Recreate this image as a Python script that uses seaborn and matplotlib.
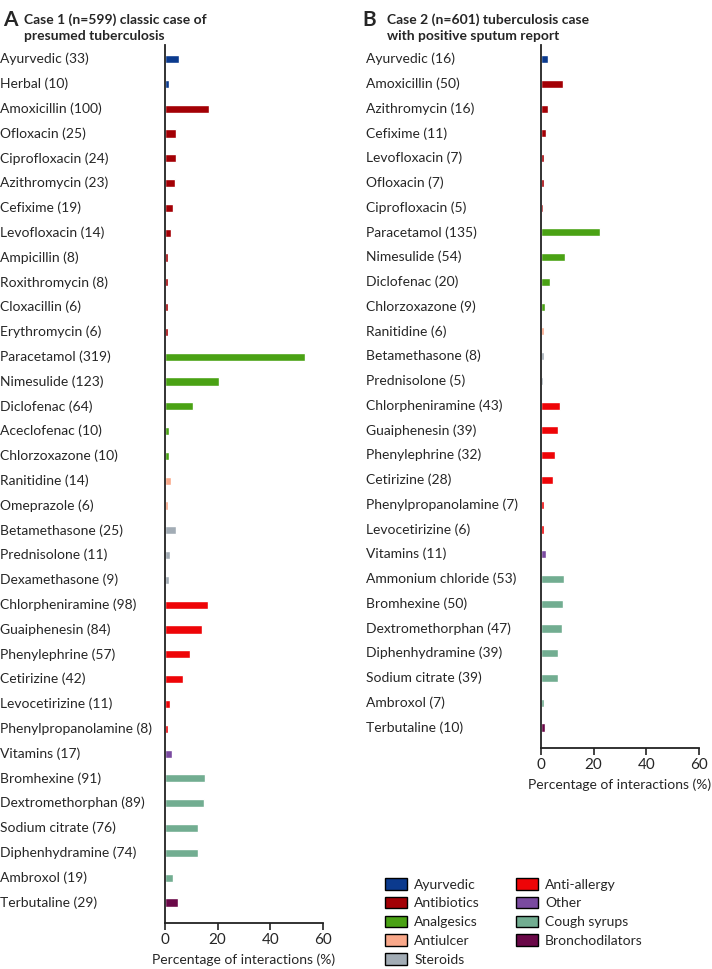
import matplotlib
matplotlib.use("Agg")
import pandas as pd
import seaborn as sns
import matplotlib.pyplot as plt
import matplotlib.transforms as mtransforms
from matplotlib.patches import Patch

sns.set_style("white")
plt.rcParams["font.family"] = ["Lato", "DejaVu Sans"]

colors = {"Ayurvedic": "#0b3a8e", "Antibiotics": "#a30005", "Analgesics": "#4aa214",
          "Antiulcer": "#f9a88a", "Steroids": "#a2acb5", "Anti-allergy": "#ee0407",
          "Other": "#7a4aa0", "Cough syrups": "#72ad91", "Bronchodilators": "#6a0848"}

# Case 1 (n=599)
labels_1 = ["Ayurvedic (33)", "Herbal (10)", "Amoxicillin (100)", "Ofloxacin (25)", "Ciprofloxacin (24)",
            "Azithromycin (23)", "Cefixime (19)", "Levofloxacin (14)", "Ampicillin (8)", "Roxithromycin (8)",
            "Cloxacillin (6)", "Erythromycin (6)", "Paracetamol (319)", "Nimesulide (123)", "Diclofenac (64)",
            "Aceclofenac (10)", "Chlorzoxazone (10)", "Ranitidine (14)", "Omeprazole (6)", "Betamethasone (25)",
            "Prednisolone (11)", "Dexamethasone (9)", "Chlorpheniramine (98)", "Guaiphenesin (84)",
            "Phenylephrine (57)", "Cetirizine (42)", "Levocetirizine (11)", "Phenylpropanolamine (8)",
            "Vitamins (17)", "Bromhexine (91)", "Dextromethorphan (89)", "Sodium citrate (76)",
            "Diphenhydramine (74)", "Ambroxol (19)", "Terbutaline (29)"]
pct_1 = [5.5, 1.7, 16.7, 4.2, 4.0, 3.8, 3.2, 2.3, 1.3, 1.3, 1.0, 1.0, 53.3, 20.5, 10.7,
         1.7, 1.7, 2.3, 1.0, 4.2, 1.8, 1.5, 16.4, 14.0, 9.5, 7.0, 1.8, 1.3, 2.8,
         15.2, 14.9, 12.7, 12.4, 3.2, 4.8]
group_1 = ["Ayurvedic"] * 2 + ["Antibiotics"] * 10 + ["Analgesics"] * 5 + ["Antiulcer"] * 2 + \
          ["Steroids"] * 3 + ["Anti-allergy"] * 6 + ["Other"] + ["Cough syrups"] * 5 + ["Bronchodilators"]

# Case 2 (n=601)
labels_2 = ["Ayurvedic (16)", "Amoxicillin (50)", "Azithromycin (16)", "Cefixime (11)", "Levofloxacin (7)",
            "Ofloxacin (7)", "Ciprofloxacin (5)", "Paracetamol (135)", "Nimesulide (54)", "Diclofenac (20)",
            "Chlorzoxazone (9)", "Ranitidine (6)", "Betamethasone (8)", "Prednisolone (5)",
            "Chlorpheniramine (43)", "Guaiphenesin (39)", "Phenylephrine (32)", "Cetirizine (28)",
            "Phenylpropanolamine (7)", "Levocetirizine (6)", "Vitamins (11)", "Ammonium chloride (53)",
            "Bromhexine (50)", "Dextromethorphan (47)", "Diphenhydramine (39)", "Sodium citrate (39)",
            "Ambroxol (7)", "Terbutaline (10)"]
pct_2 = [2.7, 8.3, 2.7, 1.8, 1.2, 1.2, 0.8, 22.5, 9.0, 3.3, 1.5, 1.0, 1.3, 0.8,
         7.2, 6.5, 5.3, 4.7, 1.2, 1.0, 1.8, 8.8, 8.3, 7.8, 6.5, 6.5, 1.2, 1.7]
group_2 = ["Ayurvedic"] + ["Antibiotics"] * 6 + ["Analgesics"] * 4 + ["Antiulcer"] + \
          ["Steroids"] * 2 + ["Anti-allergy"] * 6 + ["Other"] + ["Cough syrups"] * 6 + ["Bronchodilators"]

xticks = [0, 20, 40, 60]

fig = plt.figure(figsize=(7.12, 9.69), dpi=100)
ax1 = fig.add_axes([165 / 712, 1 - 923 / 969, 158 / 712, 878 / 969])
ax2 = fig.add_axes([541 / 712, 1 - 748 / 969, 158 / 712, 703 / 969])


def panel(ax, labels, pct, group, label_x):
    df = pd.DataFrame({"drug": labels, "pct": pct, "group": group})
    sns.barplot(data=df, x="pct", y="drug", hue="group", order=labels, palette=colors,
                dodge=False, width=0.33, ax=ax, legend=False, saturation=1)
    n = len(labels)
    ax.set_ylim(n - 1 + 0.83, -0.57)
    ax.set_xlim(0, 60)
    ax.set_xticks(xticks)
    ax.set_xticklabels([str(t) for t in xticks], fontsize=11)
    ax.set_yticks([])
    ax.set_ylabel("")
    ax.set_xlabel("Percentage of interactions (%)", fontsize=10, labelpad=5)
    for s in ["top", "right"]:
        ax.spines[s].set_visible(False)
    for s in ["left", "bottom"]:
        ax.spines[s].set_color("#222222")
        ax.spines[s].set_linewidth(1.3)
    ax.tick_params(axis="x", direction="out", length=5, width=1.2, color="#222222", pad=2, bottom=True)
    trans = mtransforms.blended_transform_factory(fig.transFigure, ax.transData)
    for i, lab in enumerate(labels):
        fig.text(label_x, i, lab, transform=trans, ha="left", va="center", fontsize=10)


panel(ax1, labels_1, pct_1, group_1, 0 / 712)
panel(ax2, labels_2, pct_2, group_2, 366 / 712)

fig.text(3 / 712, 1 - 20 / 969, "A", fontsize=15, fontweight="bold", va="center")
fig.text(24 / 712, 1 - 13 / 969, "Case 1 (n=599) classic case of\npresumed tuberculosis",
         fontsize=10, fontweight="bold", va="top", ha="left", linespacing=1.4)
fig.text(362 / 712, 1 - 20 / 969, "B", fontsize=15, fontweight="bold", va="center")
fig.text(387 / 712, 1 - 13 / 969, "Case 2 (n=601) tuberculosis case\nwith positive sputum report",
         fontsize=10, fontweight="bold", va="top", ha="left", linespacing=1.4)

handles = [Patch(facecolor=c, edgecolor="black", linewidth=1.0, label=k) for k, c in colors.items()]
fig.legend(handles=handles, ncol=2, loc="upper left", bbox_to_anchor=(385 / 712, 1 - 878 / 969),
           frameon=False, fontsize=10, handlelength=1.55, handleheight=0.9, handletextpad=0.55,
           labelspacing=0.45, columnspacing=2.6, borderaxespad=0, borderpad=0)

fig.savefig("out.png", dpi=100)
